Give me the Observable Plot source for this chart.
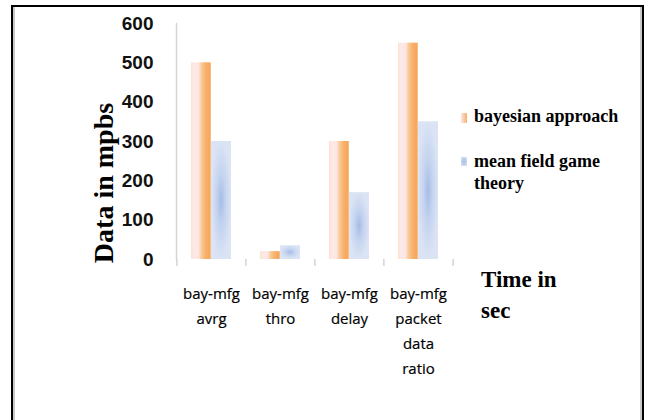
<!DOCTYPE html>
<html>
<head>
<meta charset="utf-8">
<script src="https://cdn.jsdelivr.net/npm/d3@7"></script>
<script src="https://cdn.jsdelivr.net/npm/@observablehq/plot@0.6"></script>
<style>
  html, body { margin: 0; padding: 0; background: #fff; }
  #wrap { position: relative; width: 645px; height: 420px; overflow: hidden; }
  #border { position: absolute; left: 11px; top: 5px; width: 633px; height: 430px;
    border-top: 2px solid #000; border-left: 2px solid #000; border-right: 2px solid #000;
    box-shadow: inset 2px 0 0 #c8c8c8, inset -2px 0 0 #c8c8c8; box-sizing: border-box; }
  #chart { position: absolute; left: 0; top: 0; }
  .ytitle { position: absolute; left: 103.5px; top: 182.5px; transform: translate(-50%, -50%) rotate(-90deg);
    font-family: "Liberation Serif", serif; font-weight: bold; font-size: 28px; line-height: 1; white-space: nowrap; color: #000; }
  .xtitle { position: absolute; left: 481px; top: 264px; font-family: "Liberation Serif", serif; font-weight: bold;
    font-size: 23px; line-height: 31px; color: #000; }
  .leg { position: absolute; left: 474px; font-family: "Liberation Serif", serif; font-weight: bold;
    font-size: 18px; line-height: 22px; color: #000; white-space: nowrap; }
  .sw { position: absolute; left: 461px; width: 6px; }
</style>
</head>
<body>
<div id="wrap">
  <div id="border"></div>
  <div id="chart"></div>
  <div class="ytitle">Data in mpbs</div>
  <div class="xtitle">Time in<br>sec</div>
  <div class="sw" style="top:113px;height:10px;background:linear-gradient(90deg,#fde6e2,#f7b06b);"></div>
  <div class="leg" id="leg0" style="top:105px;"></div>
  <div class="sw" style="top:157px;height:9px;background:radial-gradient(#a9bee7,#d9e3f3);"></div>
  <div class="leg" id="leg1" style="top:150px;"></div>
</div>
<script>
// ---- data ----
const categories = ["avrg", "thro", "delay", "packet data ratio"];
const tickLabels = ["bay-mfg\navrg", "bay-mfg\nthro", "bay-mfg\ndelay", "bay-mfg\npacket\ndata\nratio"];
const seriesNames = ["bayesian approach", "mean field game\ntheory"];
const bayesian = [500, 20, 300, 550];
const meanField = [300, 35, 170, 350];
const yTicks = [0, 100, 200, 300, 400, 500, 600];

const rows = categories.map((c, i) => ({category: c, label: tickLabels[i], bayesian: bayesian[i], meanField: meanField[i]}));

document.getElementById("leg0").textContent = seriesNames[0];
document.getElementById("leg1").innerHTML = seriesNames[1].replace("\n", "<br>");

// ---- layout ----
const W = 645, H = 420, mL = 176, mR = 192, mT = 23, mB = 161;
const step = (W - mL - mR) / categories.length;
const half = step * 0.58 / 2;

const plot = Plot.plot({
  width: W,
  height: H,
  marginLeft: mL,
  marginRight: mR,
  marginTop: mT,
  marginBottom: mB,
  style: {background: "transparent", overflow: "visible", fontFamily: "Liberation Sans, sans-serif"},
  x: {type: "band", domain: categories, paddingInner: 0.42, paddingOuter: 0.21},
  y: {domain: [0, 600]},
  marks: [
    Plot.frame({anchor: "left", stroke: "#d4d4d4", strokeWidth: 1.5}),
    Plot.barY(rows, {x: "category", y: "bayesian", fill: "url(#gOrange)", insetRight: half}),
    Plot.barY(rows, {x: "category", y: "meanField", fill: "url(#gBlue)", insetLeft: half}),
    Plot.axisX({tickSize: 7, text: null, label: null, dx: -step / 2, stroke: "#d4d4d4", strokeWidth: 1.5}),
    Plot.axisX({ticks: [categories[categories.length - 1]], tickSize: 7, text: null, label: null, dx: step / 2, stroke: "#d4d4d4", strokeWidth: 1.5}),
    Plot.text(rows, {x: "category", text: "label", frameAnchor: "bottom", lineAnchor: "top", dy: 22,
      fontSize: 15, lineHeight: 1.667, fill: "#000", fontFamily: "Open Sans, sans-serif", stroke: "#000", strokeWidth: 0.2}),
    Plot.axisY({ticks: yTicks, tickSize: 0, tickPadding: 23, label: null, fontSize: 19, fontWeight: "bold", fill: "#111"})
  ]
});

const defs = d3.select(plot).insert("defs", ":first-child");
const go = defs.append("linearGradient").attr("id", "gOrange").attr("x1", 0).attr("x2", 1).attr("y1", 0).attr("y2", 0);
[["0%", "#fce3cf"], ["18%", "#fde9ea"], ["38%", "#fde6e0"], ["55%", "#f9c693"], ["75%", "#f7b06a"], ["93%", "#f6a85c"], ["100%", "#f8bf88"]]
  .forEach(([o, c]) => go.append("stop").attr("offset", o).attr("stop-color", c));
const gb = defs.append("radialGradient").attr("id", "gBlue").attr("cx", 0.5).attr("cy", 0.5).attr("r", 0.5);
[["0%", "#a6bce6"], ["45%", "#c4d3ef"], ["100%", "#dbe4f4"]]
  .forEach(([o, c]) => gb.append("stop").attr("offset", o).attr("stop-color", c));

document.getElementById("chart").appendChild(plot);
</script>
</body>
</html>
